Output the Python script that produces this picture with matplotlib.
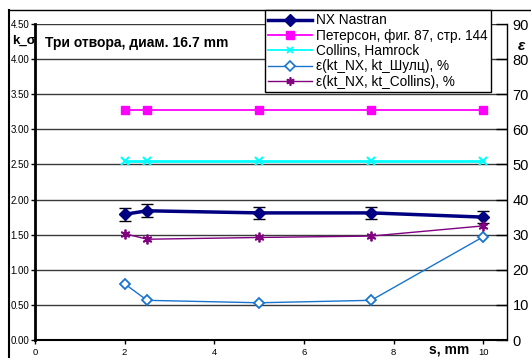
import matplotlib
matplotlib.use("Agg")
import matplotlib.pyplot as plt
from matplotlib.lines import Line2D

plt.rcParams['font.family'] = ['Liberation Sans', 'DejaVu Sans']

# thickness s, mm
s_mm = [2, 2.5, 5, 7.5, 10]

# stress concentration factors (left axis)
kt_nx = [1.79, 1.84, 1.81, 1.81, 1.75]
kt_nx_err = [0.09, 0.09, 0.09, 0.09, 0.09]
kt_peterson = [3.27, 3.27, 3.27, 3.27, 3.27]
kt_collins = [2.55, 2.55, 2.55, 2.55, 2.55]

# relative differences, % (right axis)
eps_schulz = [16.0, 11.3, 10.6, 11.3, 29.4]
eps_collins = [30.3, 28.7, 29.2, 29.6, 32.5]

left_ticks = [0.0, 0.5, 1.0, 1.5, 2.0, 2.5, 3.0, 3.5, 4.0, 4.5]
right_ticks = [0, 10, 20, 30, 40, 50, 60, 70, 80, 90]
x_ticks = [0, 2, 4, 6, 8, 10]

W, H = 531, 358
fig = plt.figure(figsize=(W / 100, H / 100), dpi=100)
fig.patch.set_facecolor('white')

ax = fig.add_axes([35 / W, 1 - 340 / H, (507 - 35) / W, (340 - 24) / H])
ax2 = ax.twinx()

NAVY = '#000080'
MAGENTA = '#FF00FF'
CYAN = '#00FFFF'
BLUE = '#1874CD'
PURPLE = '#800080'
ASTER = (6, 2, 0)

# left-axis series
ax.plot(s_mm, kt_peterson, color=MAGENTA, lw=1.3, marker='s', ms=6,
        mfc=MAGENTA, mec=MAGENTA, zorder=4)
ax.plot(s_mm, kt_collins, color=CYAN, lw=2.0, marker='x', ms=6, mew=1.5,
        zorder=4)
ax.errorbar(s_mm, kt_nx, yerr=kt_nx_err, color=NAVY, lw=2.5, marker='D',
            ms=6, mfc=NAVY, mec=NAVY, ecolor='black', elinewidth=1,
            capsize=4, capthick=1, zorder=5)

# right-axis series
ax2.plot(s_mm, eps_schulz, color=BLUE, lw=1.0, marker='D', ms=5.5,
         mfc='white', mec=BLUE, mew=1.3, zorder=4)
ax2.plot(s_mm, eps_collins, color=PURPLE, lw=1.0, marker=ASTER, ms=7,
         mec=PURPLE, mew=1.3, zorder=4)

ax.set_xlim(0, 10.53)
ax.set_ylim(0, 4.5)
ax2.set_ylim(0, 90)

for y in left_ticks:
    ax.axhline(y, color='#3a3a3a', lw=1.0, zorder=1)

ax.set_xticks(x_ticks)
ax.set_xticklabels([str(v) for v in x_ticks])
ax.set_yticks(left_ticks)
ax.set_yticklabels([f'{v:.2f}' for v in left_ticks])
ax.tick_params(axis='y', direction='out', length=3, width=1, pad=1,
               labelsize=7, colors='black')
ax.tick_params(axis='x', direction='out', length=3, width=1, pad=3,
               labelsize=6.8, colors='black')
ax2.set_yticks(right_ticks)
ax2.set_yticklabels([str(v) for v in right_ticks])
ax2.tick_params(axis='y', direction='in', length=8, width=1, pad=4,
                labelsize=10.5, colors='black')

for a in (ax, ax2):
    a.spines['top'].set_visible(False)
ax.spines['left'].set_linewidth(2.0)
ax.spines['bottom'].set_linewidth(1.5)
ax2.spines['left'].set_visible(False)
ax2.spines['bottom'].set_visible(False)
ax2.spines['right'].set_linewidth(1.0)
ax.spines['right'].set_visible(False)

# axis captions
fig.text(12 / W, 1 - 41 / H, 'k_σ', fontsize=9.5, fontweight='bold',
         ha='left', va='center')
fig.text(45 / W, 1 - 43 / H, 'Три отвора, диам. 16.7 mm', fontsize=10,
         fontweight='bold', ha='left', va='center')
fig.text(449 / W, 1 - 349 / H, 's, mm', fontsize=10, fontweight='bold',
         ha='center', va='center')
fig.text(518 / W, 1 - 46 / H, 'ε', fontsize=11, fontweight='bold',
         style='italic', ha='left', va='center')

# outer chart frame
fig.add_artist(Line2D([9 / W, 9 / W], [0, 1 - 10 / H], color='black',
                      lw=1.5, transform=fig.transFigure))
fig.add_artist(Line2D([9 / W, 1], [1 - 10 / H, 1 - 10 / H], color='black',
                      lw=1.0, transform=fig.transFigure))

handles = [
    Line2D([], [], color=NAVY, lw=2.5, marker='D', ms=6, mfc=NAVY, mec=NAVY),
    Line2D([], [], color=MAGENTA, lw=1.3, marker='s', ms=6, mfc=MAGENTA,
           mec=MAGENTA),
    Line2D([], [], color=CYAN, lw=1.3, marker='x', ms=5, mew=1.3),
    Line2D([], [], color=BLUE, lw=1.0, marker='D', ms=5, mfc='white',
           mec=BLUE, mew=1.2),
    Line2D([], [], color=PURPLE, lw=1.0, marker=ASTER, ms=6, mec=PURPLE,
           mew=1.2),
]
labels = ['NX Nastran', 'Петерсон, фиг. 87, стр. 144', 'Collins, Hamrock',
          'ε(kt_NX, kt_Шулц), %', 'ε(kt_NX, kt_Collins), %']
leg = fig.legend(handles, labels, loc='upper left',
                 bbox_to_anchor=(265 / W, 1 - 10 / H), fontsize=9.8,
                 frameon=True, fancybox=False, edgecolor='black',
                 framealpha=1, borderpad=0.25, labelspacing=0.1,
                 handlelength=3.2, handletextpad=0.3, borderaxespad=0)
leg.get_frame().set_linewidth(1.0)

fig.savefig('out.png', dpi=100, facecolor='white')
